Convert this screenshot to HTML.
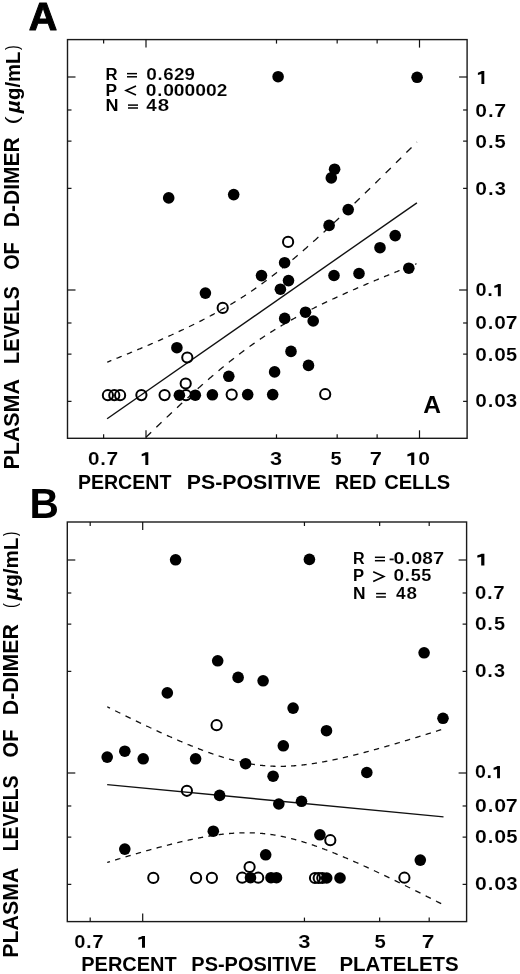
<!DOCTYPE html>
<html><head><meta charset="utf-8"><style>
html,body{margin:0;padding:0;background:#fff;}
svg{display:block;filter:blur(0.35px);}
text{font-family:"Liberation Sans",sans-serif;font-weight:bold;fill:#000;font-kerning:none;}
</style></head><body>
<svg width="520" height="974" viewBox="0 0 520 974">
<rect width="520" height="974" fill="#fff"/>
<rect x="67.5" y="39.6" width="399.6" height="398.7" fill="none" stroke="#1a1a1a" stroke-width="1.4"/>
<line x1="103.63" y1="39.60" x2="103.63" y2="43.60" stroke="#111" stroke-width="1.2"/>
<line x1="103.63" y1="438.30" x2="103.63" y2="434.30" stroke="#111" stroke-width="1.2"/>
<line x1="146.00" y1="39.60" x2="146.00" y2="47.60" stroke="#111" stroke-width="1.2"/>
<line x1="146.00" y1="438.30" x2="146.00" y2="430.30" stroke="#111" stroke-width="1.2"/>
<line x1="276.49" y1="39.60" x2="276.49" y2="43.60" stroke="#111" stroke-width="1.2"/>
<line x1="276.49" y1="438.30" x2="276.49" y2="434.30" stroke="#111" stroke-width="1.2"/>
<line x1="337.17" y1="39.60" x2="337.17" y2="43.60" stroke="#111" stroke-width="1.2"/>
<line x1="337.17" y1="438.30" x2="337.17" y2="434.30" stroke="#111" stroke-width="1.2"/>
<line x1="377.13" y1="39.60" x2="377.13" y2="43.60" stroke="#111" stroke-width="1.2"/>
<line x1="377.13" y1="438.30" x2="377.13" y2="434.30" stroke="#111" stroke-width="1.2"/>
<line x1="419.50" y1="39.60" x2="419.50" y2="47.60" stroke="#111" stroke-width="1.2"/>
<line x1="419.50" y1="438.30" x2="419.50" y2="430.30" stroke="#111" stroke-width="1.2"/>
<line x1="67.50" y1="77.00" x2="75.50" y2="77.00" stroke="#111" stroke-width="1.2"/>
<line x1="467.10" y1="77.00" x2="459.10" y2="77.00" stroke="#111" stroke-width="1.2"/>
<line x1="67.50" y1="109.99" x2="71.50" y2="109.99" stroke="#111" stroke-width="1.2"/>
<line x1="467.10" y1="109.99" x2="463.10" y2="109.99" stroke="#111" stroke-width="1.2"/>
<line x1="67.50" y1="141.12" x2="71.50" y2="141.12" stroke="#111" stroke-width="1.2"/>
<line x1="467.10" y1="141.12" x2="463.10" y2="141.12" stroke="#111" stroke-width="1.2"/>
<line x1="67.50" y1="188.37" x2="71.50" y2="188.37" stroke="#111" stroke-width="1.2"/>
<line x1="467.10" y1="188.37" x2="463.10" y2="188.37" stroke="#111" stroke-width="1.2"/>
<line x1="67.50" y1="290.00" x2="75.50" y2="290.00" stroke="#111" stroke-width="1.2"/>
<line x1="467.10" y1="290.00" x2="459.10" y2="290.00" stroke="#111" stroke-width="1.2"/>
<line x1="67.50" y1="322.99" x2="71.50" y2="322.99" stroke="#111" stroke-width="1.2"/>
<line x1="467.10" y1="322.99" x2="463.10" y2="322.99" stroke="#111" stroke-width="1.2"/>
<line x1="67.50" y1="354.12" x2="71.50" y2="354.12" stroke="#111" stroke-width="1.2"/>
<line x1="467.10" y1="354.12" x2="463.10" y2="354.12" stroke="#111" stroke-width="1.2"/>
<line x1="67.50" y1="401.37" x2="71.50" y2="401.37" stroke="#111" stroke-width="1.2"/>
<line x1="467.10" y1="401.37" x2="463.10" y2="401.37" stroke="#111" stroke-width="1.2"/>
<line x1="107.10" y1="418.80" x2="416.90" y2="202.81" stroke="#111" stroke-width="1.4"/>
<path d="M107.10,362.22 L107.63,362.01 L108.17,361.79 L108.70,361.58 L109.24,361.36 L109.77,361.15 L110.31,360.93 L110.84,360.72 L111.38,360.50 M116.55,358.41 L117.07,358.20 L117.58,357.99 L118.10,357.77 L118.62,357.56 L119.14,357.35 L119.66,357.14 L120.17,356.93 L120.69,356.72 L121.21,356.51 L121.72,356.30 M126.90,354.17 L127.42,353.96 L127.94,353.74 L128.45,353.53 L128.97,353.31 L129.49,353.10 L130.01,352.89 L130.52,352.67 L131.04,352.46 L131.56,352.24 L132.08,352.03 M137.25,349.87 L137.77,349.65 L138.28,349.43 L138.80,349.21 L139.32,349.00 L139.84,348.78 L140.36,348.56 L140.87,348.34 L141.39,348.12 L141.91,347.90 L142.43,347.68 M147.60,345.48 L148.12,345.26 L148.63,345.04 L149.15,344.82 L149.67,344.59 L150.19,344.37 L150.71,344.15 L151.22,343.92 L151.74,343.70 L152.26,343.48 L152.78,343.25 M157.95,341.00 L158.47,340.77 L158.98,340.55 L159.50,340.32 L160.02,340.09 L160.54,339.86 L161.06,339.63 L161.57,339.41 L162.09,339.18 L162.61,338.95 L163.12,338.72 M168.30,336.40 L168.82,336.17 L169.34,335.94 L169.85,335.70 L170.37,335.47 L170.89,335.23 L171.41,335.00 L171.92,334.76 L172.44,334.53 L172.96,334.29 L173.48,334.05 M178.65,331.66 L179.17,331.42 L179.69,331.18 L180.20,330.94 L180.72,330.70 L181.24,330.45 L181.76,330.21 L182.27,329.97 L182.79,329.72 L183.31,329.48 L183.83,329.23 M189.00,326.75 L189.52,326.50 L190.03,326.25 L190.55,326.00 L191.07,325.75 L191.59,325.49 L192.11,325.24 L192.62,324.99 L193.14,324.73 L193.66,324.48 L194.18,324.22 M199.35,321.64 L199.87,321.37 L200.38,321.11 L200.90,320.85 L201.42,320.58 L201.94,320.32 L202.46,320.05 L202.97,319.79 L203.49,319.52 L204.01,319.25 L204.53,318.99 M209.70,316.27 L210.22,315.99 L210.73,315.72 L211.25,315.44 L211.77,315.16 L212.29,314.88 L212.81,314.60 L213.32,314.32 L213.84,314.04 L214.36,313.76 L214.88,313.48 M220.05,310.61 L220.57,310.31 L221.09,310.02 L221.60,309.73 L222.12,309.43 L222.64,309.14 L223.16,308.84 L223.67,308.54 L224.19,308.25 L224.71,307.95 L225.23,307.65 M230.40,304.60 L230.92,304.29 L231.43,303.98 L231.95,303.66 L232.47,303.35 L232.99,303.04 L233.50,302.72 L234.02,302.40 L234.54,302.09 L235.06,301.77 L235.57,301.45 M240.75,298.20 L241.27,297.87 L241.78,297.53 L242.30,297.20 L242.82,296.87 L243.34,296.53 L243.86,296.20 L244.37,295.86 L244.89,295.52 L245.41,295.18 L245.93,294.84 M251.10,291.37 L251.62,291.02 L252.14,290.66 L252.65,290.31 L253.17,289.95 L253.69,289.60 L254.21,289.24 L254.72,288.88 L255.24,288.52 L255.76,288.15 L256.28,287.79 M261.45,284.10 L261.97,283.72 L262.49,283.35 L263.00,282.97 L263.52,282.59 L264.04,282.21 L264.56,281.83 L265.07,281.45 L265.59,281.07 L266.11,280.68 L266.62,280.30 M271.80,276.39 L272.32,275.99 L272.84,275.59 L273.35,275.19 L273.87,274.79 L274.39,274.39 L274.91,273.99 L275.42,273.59 L275.94,273.18 L276.46,272.78 L276.98,272.37 M282.15,268.25 L282.67,267.84 L283.19,267.42 L283.70,267.00 L284.22,266.58 L284.74,266.16 L285.25,265.74 L285.77,265.32 L286.29,264.89 L286.81,264.47 L287.32,264.04 M292.50,259.74 L293.02,259.31 L293.54,258.87 L294.05,258.43 L294.57,258.00 L295.09,257.56 L295.61,257.12 L296.12,256.68 L296.64,256.24 L297.16,255.80 L297.68,255.36 M302.85,250.89 L303.37,250.44 L303.89,249.99 L304.40,249.54 L304.92,249.09 L305.44,248.64 L305.96,248.18 L306.47,247.73 L306.99,247.27 L307.51,246.82 L308.03,246.36 M313.20,241.76 L313.72,241.30 L314.24,240.84 L314.75,240.37 L315.27,239.91 L315.79,239.44 L316.31,238.98 L316.82,238.51 L317.34,238.04 L317.86,237.57 L318.38,237.11 M323.55,232.39 L324.07,231.92 L324.59,231.45 L325.10,230.97 L325.62,230.50 L326.14,230.02 L326.66,229.54 L327.17,229.07 L327.69,228.59 L328.21,228.11 L328.73,227.63 M333.90,222.83 L334.42,222.34 L334.94,221.86 L335.45,221.38 L335.97,220.89 L336.49,220.41 L337.00,219.92 L337.52,219.44 L338.04,218.95 L338.56,218.47 L339.07,217.98 M344.25,213.10 L344.77,212.61 L345.29,212.12 L345.80,211.62 L346.32,211.13 L346.84,210.64 L347.36,210.15 L347.87,209.66 L348.39,209.17 L348.91,208.67 L349.43,208.18 M354.60,203.23 L355.12,202.74 L355.63,202.24 L356.15,201.74 L356.67,201.24 L357.19,200.75 L357.70,200.25 L358.22,199.75 L358.74,199.25 L359.26,198.75 L359.77,198.26 M364.95,193.26 L365.47,192.75 L365.99,192.25 L366.50,191.75 L367.02,191.25 L367.54,190.75 L368.06,190.24 L368.57,189.74 L369.09,189.24 L369.61,188.73 L370.12,188.23 M375.30,183.19 L375.82,182.68 L376.33,182.18 L376.85,181.67 L377.37,181.16 L377.89,180.66 L378.40,180.15 L378.92,179.64 L379.44,179.14 L379.96,178.63 L380.47,178.12 M385.65,173.04 L386.17,172.53 L386.69,172.02 L387.20,171.51 L387.72,171.00 L388.24,170.49 L388.75,169.98 L389.27,169.47 L389.79,168.96 L390.31,168.45 L390.82,167.94 M396.00,162.83 L396.52,162.32 L397.04,161.81 L397.55,161.29 L398.07,160.78 L398.59,160.27 L399.11,159.76 L399.62,159.24 L400.14,158.73 L400.66,158.22 L401.18,157.70 M406.35,152.57 L406.87,152.05 L407.38,151.54 L407.90,151.02 L408.42,150.51 L408.94,149.99 L409.45,149.48 L409.97,148.96 L410.49,148.45 L411.01,147.93 L411.52,147.42 M416.70,142.25 L416.90,142.05" fill="none" stroke="#111" stroke-width="1.3"/>
<path d="M146.00,437.19 L146.52,436.69 L147.03,436.19 L147.55,435.69 L148.07,435.19 L148.59,434.69 L149.11,434.19 L149.62,433.69 L150.14,433.19 L150.66,432.70 L151.18,432.20 M156.35,427.23 L156.87,426.73 L157.38,426.24 L157.90,425.74 L158.42,425.25 L158.94,424.75 L159.46,424.26 L159.97,423.76 L160.49,423.27 L161.01,422.78 L161.53,422.28 M166.70,417.37 L167.22,416.88 L167.73,416.39 L168.25,415.91 L168.77,415.42 L169.29,414.93 L169.81,414.44 L170.32,413.95 L170.84,413.47 L171.36,412.98 L171.88,412.50 M177.05,407.66 L177.57,407.17 L178.09,406.69 L178.60,406.21 L179.12,405.73 L179.64,405.25 L180.16,404.77 L180.67,404.29 L181.19,403.81 L181.71,403.34 L182.23,402.86 M187.40,398.10 L187.92,397.63 L188.43,397.16 L188.95,396.69 L189.47,396.22 L189.99,395.75 L190.50,395.28 L191.02,394.81 L191.54,394.34 L192.06,393.87 L192.57,393.40 M197.75,388.76 L198.27,388.29 L198.78,387.83 L199.30,387.37 L199.82,386.91 L200.34,386.45 L200.86,386.00 L201.37,385.54 L201.89,385.08 L202.41,384.62 L202.93,384.17 M208.10,379.65 L208.62,379.20 L209.13,378.75 L209.65,378.31 L210.17,377.86 L210.69,377.42 L211.21,376.97 L211.72,376.53 L212.24,376.08 L212.76,375.64 L213.28,375.20 M218.45,370.83 L218.97,370.40 L219.48,369.97 L220.00,369.54 L220.52,369.11 L221.04,368.68 L221.56,368.25 L222.07,367.82 L222.59,367.40 L223.11,366.97 L223.62,366.55 M228.80,362.35 L229.32,361.94 L229.83,361.52 L230.35,361.11 L230.87,360.70 L231.39,360.29 L231.91,359.88 L232.42,359.47 L232.94,359.06 L233.46,358.66 L233.97,358.25 M239.15,354.26 L239.67,353.86 L240.18,353.47 L240.70,353.08 L241.22,352.69 L241.74,352.30 L242.25,351.91 L242.77,351.52 L243.29,351.13 L243.81,350.75 L244.32,350.36 M249.50,346.58 L250.02,346.21 L250.53,345.84 L251.05,345.47 L251.57,345.10 L252.09,344.73 L252.61,344.37 L253.12,344.00 L253.64,343.64 L254.16,343.27 L254.68,342.91 M259.85,339.35 L260.37,339.00 L260.89,338.65 L261.40,338.31 L261.92,337.96 L262.44,337.61 L262.96,337.27 L263.47,336.93 L263.99,336.58 L264.51,336.24 L265.03,335.90 M270.20,332.57 L270.72,332.24 L271.24,331.91 L271.75,331.59 L272.27,331.26 L272.79,330.94 L273.31,330.61 L273.82,330.29 L274.34,329.97 L274.86,329.65 L275.38,329.33 M280.55,326.20 L281.07,325.90 L281.58,325.59 L282.10,325.28 L282.62,324.98 L283.14,324.68 L283.65,324.37 L284.17,324.07 L284.69,323.77 L285.21,323.47 L285.72,323.17 M290.90,320.23 L291.42,319.94 L291.94,319.65 L292.45,319.36 L292.97,319.08 L293.49,318.79 L294.00,318.51 L294.52,318.22 L295.04,317.94 L295.56,317.65 L296.07,317.37 M301.25,314.59 L301.77,314.32 L302.29,314.05 L302.80,313.78 L303.32,313.50 L303.84,313.23 L304.36,312.96 L304.87,312.69 L305.39,312.43 L305.91,312.16 L306.43,311.89 M311.60,309.25 L312.12,308.99 L312.64,308.73 L313.15,308.47 L313.67,308.22 L314.19,307.96 L314.71,307.70 L315.22,307.44 L315.74,307.19 L316.26,306.93 L316.78,306.68 M321.95,304.16 L322.47,303.91 L322.99,303.66 L323.50,303.41 L324.02,303.16 L324.54,302.92 L325.06,302.67 L325.57,302.42 L326.09,302.18 L326.61,301.93 L327.12,301.69 M332.30,299.26 L332.82,299.02 L333.33,298.78 L333.85,298.54 L334.37,298.31 L334.89,298.07 L335.40,297.83 L335.92,297.59 L336.44,297.36 L336.96,297.12 L337.47,296.88 M342.65,294.54 L343.17,294.31 L343.69,294.07 L344.20,293.84 L344.72,293.61 L345.24,293.38 L345.75,293.15 L346.27,292.92 L346.79,292.69 L347.31,292.46 L347.82,292.23 M353.00,289.95 L353.52,289.73 L354.04,289.50 L354.55,289.28 L355.07,289.05 L355.59,288.82 L356.11,288.60 L356.62,288.38 L357.14,288.15 L357.66,287.93 L358.18,287.70 M363.35,285.48 L363.87,285.26 L364.39,285.04 L364.90,284.82 L365.42,284.60 L365.94,284.38 L366.46,284.16 L366.97,283.94 L367.49,283.72 L368.01,283.50 L368.53,283.28 M373.70,281.10 L374.22,280.89 L374.73,280.67 L375.25,280.46 L375.77,280.24 L376.29,280.02 L376.80,279.81 L377.32,279.59 L377.84,279.38 L378.36,279.16 L378.87,278.95 M384.05,276.81 L384.57,276.59 L385.08,276.38 L385.60,276.17 L386.12,275.96 L386.64,275.74 L387.15,275.53 L387.67,275.32 L388.19,275.11 L388.71,274.90 L389.22,274.68 M394.40,272.58 L394.92,272.37 L395.44,272.16 L395.95,271.95 L396.47,271.74 L396.99,271.53 L397.50,271.32 L398.02,271.11 L398.54,270.90 L399.06,270.69 L399.57,270.48 M404.75,268.40 L405.27,268.19 L405.79,267.99 L406.30,267.78 L406.82,267.57 L407.34,267.37 L407.86,267.16 L408.37,266.95 L408.89,266.75 L409.41,266.54 L409.93,266.33 M415.10,264.27 L415.80,264.00 L416.50,263.72" fill="none" stroke="#111" stroke-width="1.3"/>
<circle cx="288.1" cy="241.9" r="5.1" fill="none" stroke="#000" stroke-width="2.0"/>
<circle cx="222.7" cy="307.9" r="5.1" fill="none" stroke="#000" stroke-width="2.0"/>
<circle cx="187.3" cy="357.5" r="5.1" fill="none" stroke="#000" stroke-width="2.0"/>
<circle cx="185.7" cy="383.5" r="5.1" fill="none" stroke="#000" stroke-width="2.0"/>
<circle cx="186" cy="395.2" r="5.1" fill="none" stroke="#000" stroke-width="2.0"/>
<circle cx="107.9" cy="395.2" r="5.1" fill="none" stroke="#000" stroke-width="2.0"/>
<circle cx="114.3" cy="395.2" r="5.1" fill="none" stroke="#000" stroke-width="2.0"/>
<circle cx="120.1" cy="395.2" r="5.1" fill="none" stroke="#000" stroke-width="2.0"/>
<circle cx="141.4" cy="395.1" r="5.1" fill="none" stroke="#000" stroke-width="2.0"/>
<circle cx="164.6" cy="395.1" r="5.1" fill="none" stroke="#000" stroke-width="2.0"/>
<circle cx="231.7" cy="394.6" r="5.1" fill="none" stroke="#000" stroke-width="2.0"/>
<circle cx="325.2" cy="394.2" r="5.1" fill="none" stroke="#000" stroke-width="2.0"/>
<circle cx="278.1" cy="76.7" r="5.8" fill="#000"/>
<circle cx="417.1" cy="77.3" r="5.8" fill="#000"/>
<circle cx="168.7" cy="197.9" r="5.8" fill="#000"/>
<circle cx="233.7" cy="194.6" r="5.8" fill="#000"/>
<circle cx="334.6" cy="169.2" r="5.8" fill="#000"/>
<circle cx="331.3" cy="177.9" r="5.8" fill="#000"/>
<circle cx="348.2" cy="209.6" r="5.8" fill="#000"/>
<circle cx="329.1" cy="225.4" r="5.8" fill="#000"/>
<circle cx="395.2" cy="235.6" r="5.8" fill="#000"/>
<circle cx="380" cy="247.7" r="5.8" fill="#000"/>
<circle cx="408.8" cy="268.2" r="5.8" fill="#000"/>
<circle cx="334" cy="275.5" r="5.8" fill="#000"/>
<circle cx="359" cy="273.5" r="5.8" fill="#000"/>
<circle cx="284.6" cy="262.7" r="5.8" fill="#000"/>
<circle cx="261.5" cy="275.6" r="5.8" fill="#000"/>
<circle cx="288.5" cy="280.6" r="5.8" fill="#000"/>
<circle cx="280.4" cy="289.2" r="5.8" fill="#000"/>
<circle cx="205.4" cy="293.1" r="5.8" fill="#000"/>
<circle cx="176.9" cy="347.7" r="5.8" fill="#000"/>
<circle cx="305.5" cy="312.2" r="5.8" fill="#000"/>
<circle cx="313.2" cy="321" r="5.8" fill="#000"/>
<circle cx="284.7" cy="318.4" r="5.8" fill="#000"/>
<circle cx="291" cy="351.4" r="5.8" fill="#000"/>
<circle cx="308.5" cy="365.4" r="5.8" fill="#000"/>
<circle cx="228.8" cy="376.3" r="5.8" fill="#000"/>
<circle cx="274.6" cy="371.9" r="5.8" fill="#000"/>
<circle cx="179.4" cy="395.2" r="5.8" fill="#000"/>
<circle cx="195.3" cy="395.2" r="5.8" fill="#000"/>
<circle cx="212.4" cy="394.8" r="5.8" fill="#000"/>
<circle cx="247.7" cy="394.6" r="5.8" fill="#000"/>
<circle cx="272.7" cy="394.6" r="5.8" fill="#000"/>
<text x="105.58" y="80.00" font-size="15.8" textLength="12.06" lengthAdjust="spacingAndGlyphs">R</text>
<line x1="127" y1="73.65" x2="137" y2="73.65" stroke="#000" stroke-width="1.5"/>
<line x1="127" y1="76.8" x2="137" y2="76.8" stroke="#000" stroke-width="1.5"/>
<text x="146.15" y="80.00" font-size="15.8" textLength="10.59" lengthAdjust="spacingAndGlyphs" stroke="#fff" stroke-width="0.1">0</text>
<text x="157.50" y="80.00" font-size="15.8" textLength="5.05" lengthAdjust="spacingAndGlyphs" stroke="#fff" stroke-width="0.1">.</text>
<text x="163.38" y="80.00" font-size="15.8" textLength="10.42" lengthAdjust="spacingAndGlyphs" stroke="#fff" stroke-width="0.1">6</text>
<text x="173.95" y="80.00" font-size="15.8" textLength="10.47" lengthAdjust="spacingAndGlyphs" stroke="#fff" stroke-width="0.1">2</text>
<text x="184.49" y="80.00" font-size="15.8" textLength="10.40" lengthAdjust="spacingAndGlyphs" stroke="#fff" stroke-width="0.1">9</text>
<text x="105.54" y="95.50" font-size="15.8" textLength="11.55" lengthAdjust="spacingAndGlyphs">P</text>
<polyline points="136,86 126,90.5 136,95" fill="none" stroke="#000" stroke-width="1.6" stroke-linejoin="miter"/>
<text x="145.84" y="95.50" font-size="15.8" textLength="10.73" lengthAdjust="spacingAndGlyphs" stroke="#fff" stroke-width="0.1">0</text>
<text x="157.37" y="95.50" font-size="15.8" textLength="5.05" lengthAdjust="spacingAndGlyphs" stroke="#fff" stroke-width="0.1">.</text>
<text x="163.23" y="95.50" font-size="15.8" textLength="10.73" lengthAdjust="spacingAndGlyphs" stroke="#fff" stroke-width="0.1">0</text>
<text x="173.89" y="95.50" font-size="15.8" textLength="10.73" lengthAdjust="spacingAndGlyphs" stroke="#fff" stroke-width="0.1">0</text>
<text x="184.56" y="95.50" font-size="15.8" textLength="10.73" lengthAdjust="spacingAndGlyphs" stroke="#fff" stroke-width="0.1">0</text>
<text x="195.23" y="95.50" font-size="15.8" textLength="10.73" lengthAdjust="spacingAndGlyphs" stroke="#fff" stroke-width="0.1">0</text>
<text x="205.90" y="95.50" font-size="15.8" textLength="10.73" lengthAdjust="spacingAndGlyphs" stroke="#fff" stroke-width="0.1">0</text>
<text x="216.67" y="95.50" font-size="15.8" textLength="10.60" lengthAdjust="spacingAndGlyphs" stroke="#fff" stroke-width="0.1">2</text>
<text x="105.49" y="111.20" font-size="15.8" textLength="13.02" lengthAdjust="spacingAndGlyphs">N</text>
<line x1="128" y1="105.1" x2="138" y2="105.1" stroke="#000" stroke-width="1.5"/>
<line x1="128" y1="108" x2="138" y2="108" stroke="#000" stroke-width="1.5"/>
<text x="146.31" y="111.20" font-size="15.8" textLength="10.51" lengthAdjust="spacingAndGlyphs" stroke="#fff" stroke-width="0.1">4</text>
<text x="157.72" y="111.20" font-size="15.8" textLength="11.41" lengthAdjust="spacingAndGlyphs" stroke="#fff" stroke-width="0.1">8</text>
<text x="423.19" y="413.10" font-size="24.7" textLength="17.76" lengthAdjust="spacingAndGlyphs">A</text>
<path d="M481.42,83.90 L484.30,83.90 L484.30,70.90 L481.72,70.90 C480.82,71.68 478.70,72.33 477.90,72.72 L477.90,74.93 C479.10,74.67 480.62,74.28 481.42,74.02 Z" fill="#000"/>
<text x="475.37" y="116.80" font-size="17.6" textLength="11.71" lengthAdjust="spacingAndGlyphs" stroke="#fff" stroke-width="0.1">0</text>
<text x="487.90" y="116.80" font-size="17.6" textLength="5.62" lengthAdjust="spacingAndGlyphs" stroke="#fff" stroke-width="0.1">.</text>
<text x="494.27" y="116.80" font-size="17.6" textLength="11.87" lengthAdjust="spacingAndGlyphs" stroke="#fff" stroke-width="0.1">7</text>
<text x="475.37" y="147.70" font-size="17.6" textLength="11.71" lengthAdjust="spacingAndGlyphs" stroke="#fff" stroke-width="0.1">0</text>
<text x="487.90" y="147.70" font-size="17.6" textLength="5.62" lengthAdjust="spacingAndGlyphs" stroke="#fff" stroke-width="0.1">.</text>
<text x="494.56" y="147.70" font-size="17.6" textLength="11.20" lengthAdjust="spacingAndGlyphs" stroke="#fff" stroke-width="0.1">5</text>
<text x="475.37" y="194.70" font-size="17.6" textLength="11.71" lengthAdjust="spacingAndGlyphs" stroke="#fff" stroke-width="0.1">0</text>
<text x="487.90" y="194.70" font-size="17.6" textLength="5.62" lengthAdjust="spacingAndGlyphs" stroke="#fff" stroke-width="0.1">.</text>
<text x="494.72" y="194.70" font-size="17.6" textLength="11.21" lengthAdjust="spacingAndGlyphs" stroke="#fff" stroke-width="0.1">3</text>
<text x="475.41" y="296.30" font-size="17.6" textLength="11.15" lengthAdjust="spacingAndGlyphs" stroke="#fff" stroke-width="0.1">0</text>
<text x="487.20" y="296.30" font-size="17.6" textLength="5.62" lengthAdjust="spacingAndGlyphs" stroke="#fff" stroke-width="0.1">.</text>
<path d="M497.86,296.30 L500.81,296.30 L500.81,283.90 L498.16,283.90 C497.26,284.64 495.07,285.26 494.27,285.64 L494.27,287.74 C495.47,287.50 497.06,287.12 497.86,286.88 Z" fill="#000"/>
<text x="475.37" y="329.10" font-size="17.6" textLength="11.61" lengthAdjust="spacingAndGlyphs" stroke="#fff" stroke-width="0.1">0</text>
<text x="487.77" y="329.10" font-size="17.6" textLength="5.62" lengthAdjust="spacingAndGlyphs" stroke="#fff" stroke-width="0.1">.</text>
<text x="494.20" y="329.10" font-size="17.6" textLength="11.61" lengthAdjust="spacingAndGlyphs" stroke="#fff" stroke-width="0.1">0</text>
<text x="505.66" y="329.10" font-size="17.6" textLength="11.77" lengthAdjust="spacingAndGlyphs" stroke="#fff" stroke-width="0.1">7</text>
<text x="475.37" y="360.70" font-size="17.6" textLength="11.61" lengthAdjust="spacingAndGlyphs" stroke="#fff" stroke-width="0.1">0</text>
<text x="487.77" y="360.70" font-size="17.6" textLength="5.62" lengthAdjust="spacingAndGlyphs" stroke="#fff" stroke-width="0.1">.</text>
<text x="494.20" y="360.70" font-size="17.6" textLength="11.61" lengthAdjust="spacingAndGlyphs" stroke="#fff" stroke-width="0.1">0</text>
<text x="505.96" y="360.70" font-size="17.6" textLength="11.10" lengthAdjust="spacingAndGlyphs" stroke="#fff" stroke-width="0.1">5</text>
<text x="475.37" y="407.30" font-size="17.6" textLength="11.61" lengthAdjust="spacingAndGlyphs" stroke="#fff" stroke-width="0.1">0</text>
<text x="487.77" y="407.30" font-size="17.6" textLength="5.62" lengthAdjust="spacingAndGlyphs" stroke="#fff" stroke-width="0.1">.</text>
<text x="494.20" y="407.30" font-size="17.6" textLength="11.61" lengthAdjust="spacingAndGlyphs" stroke="#fff" stroke-width="0.1">0</text>
<text x="506.11" y="407.30" font-size="17.6" textLength="11.11" lengthAdjust="spacingAndGlyphs" stroke="#fff" stroke-width="0.1">3</text>
<text x="87.98" y="465.00" font-size="17.6" textLength="11.51" lengthAdjust="spacingAndGlyphs" stroke="#fff" stroke-width="0.1">0</text>
<text x="100.25" y="465.00" font-size="17.6" textLength="5.62" lengthAdjust="spacingAndGlyphs" stroke="#fff" stroke-width="0.1">.</text>
<text x="106.56" y="465.00" font-size="17.6" textLength="11.67" lengthAdjust="spacingAndGlyphs" stroke="#fff" stroke-width="0.1">7</text>
<text x="269.90" y="465.00" font-size="17.6" textLength="12.08" lengthAdjust="spacingAndGlyphs" stroke="#fff" stroke-width="0.1">3</text>
<text x="330.58" y="465.00" font-size="17.6" textLength="11.18" lengthAdjust="spacingAndGlyphs" stroke="#fff" stroke-width="0.1">5</text>
<text x="369.86" y="465.00" font-size="17.6" textLength="12.21" lengthAdjust="spacingAndGlyphs" stroke="#fff" stroke-width="0.1">7</text>
<path d="M411.19,465.00 L414.28,465.00 L414.28,452.60 L411.49,452.60 C410.59,453.34 408.20,453.96 407.40,454.34 L407.40,456.44 C408.60,456.20 410.39,455.82 411.19,455.58 Z" fill="#000"/>
<text x="418.23" y="465.00" font-size="17.6" textLength="11.73" lengthAdjust="spacingAndGlyphs" stroke="#fff" stroke-width="0.1">0</text>
<path d="M145.33,465.00 L148.30,465.00 L148.30,452.20 L145.63,452.20 C144.73,452.97 142.50,453.61 141.70,453.99 L141.70,456.17 C142.90,455.91 144.53,455.53 145.33,455.27 Z" fill="#000"/>
<text x="77.89" y="488.60" font-size="20.9" textLength="93.52" lengthAdjust="spacingAndGlyphs">PERCENT</text>
<text x="186.67" y="488.60" font-size="20.9" textLength="134.06" lengthAdjust="spacingAndGlyphs">PS-POSITIVE</text>
<text x="334.99" y="488.60" font-size="20.9" textLength="41.33" lengthAdjust="spacingAndGlyphs">RED</text>
<text x="384.18" y="488.60" font-size="20.9" textLength="65.91" lengthAdjust="spacingAndGlyphs">CELLS</text>
<text transform="translate(18.90,0) rotate(-90)" x="-469.43" y="0" font-size="21.8" textLength="90.29" lengthAdjust="spacingAndGlyphs">PLASMA</text>
<text transform="translate(18.90,0) rotate(-90)" x="-363.94" y="0" font-size="21.8" textLength="77.72" lengthAdjust="spacingAndGlyphs">LEVELS</text>
<text transform="translate(18.90,0) rotate(-90)" x="-269.81" y="0" font-size="21.8" textLength="27.54" lengthAdjust="spacingAndGlyphs">OF</text>
<text transform="translate(18.90,0) rotate(-90)" x="-227.20" y="0" font-size="21.8" textLength="89.84" lengthAdjust="spacingAndGlyphs">D-DIMER</text>
<text transform="translate(18.10,0) rotate(-90)" x="-124.62" y="0" font-size="18.1" style="font-weight:normal" textLength="8.16" lengthAdjust="spacingAndGlyphs">(</text>
<text transform="translate(19.75,0) rotate(-90)" x="-113.39" y="0" font-size="20.5" font-style="italic" textLength="12.83" lengthAdjust="spacingAndGlyphs">µ</text>
<text transform="translate(19.75,0) rotate(-90)" x="-99.93" y="0" font-size="20.5" textLength="48.30" lengthAdjust="spacingAndGlyphs">g/mL</text>
<text transform="translate(18.10,0) rotate(-90)" x="-49.98" y="0" font-size="18.1" style="font-weight:normal" textLength="4.65" lengthAdjust="spacingAndGlyphs">)</text>
<text x="28.72" y="30.20" font-size="39.7" textLength="28.53" lengthAdjust="spacingAndGlyphs" stroke="#000" stroke-width="1.0" stroke-linejoin="round">A</text>
<rect x="67.3" y="522.0" width="399.3" height="399.6" fill="none" stroke="#1a1a1a" stroke-width="1.4"/>
<line x1="90.19" y1="522.00" x2="90.19" y2="526.00" stroke="#111" stroke-width="1.2"/>
<line x1="90.19" y1="921.60" x2="90.19" y2="917.60" stroke="#111" stroke-width="1.2"/>
<line x1="142.70" y1="522.00" x2="142.70" y2="530.00" stroke="#111" stroke-width="1.2"/>
<line x1="142.70" y1="921.60" x2="142.70" y2="913.60" stroke="#111" stroke-width="1.2"/>
<line x1="304.44" y1="522.00" x2="304.44" y2="526.00" stroke="#111" stroke-width="1.2"/>
<line x1="304.44" y1="921.60" x2="304.44" y2="917.60" stroke="#111" stroke-width="1.2"/>
<line x1="379.65" y1="522.00" x2="379.65" y2="526.00" stroke="#111" stroke-width="1.2"/>
<line x1="379.65" y1="921.60" x2="379.65" y2="917.60" stroke="#111" stroke-width="1.2"/>
<line x1="429.19" y1="522.00" x2="429.19" y2="526.00" stroke="#111" stroke-width="1.2"/>
<line x1="429.19" y1="921.60" x2="429.19" y2="917.60" stroke="#111" stroke-width="1.2"/>
<line x1="67.30" y1="560.00" x2="75.30" y2="560.00" stroke="#111" stroke-width="1.2"/>
<line x1="466.60" y1="560.00" x2="458.60" y2="560.00" stroke="#111" stroke-width="1.2"/>
<line x1="67.30" y1="592.99" x2="71.30" y2="592.99" stroke="#111" stroke-width="1.2"/>
<line x1="466.60" y1="592.99" x2="462.60" y2="592.99" stroke="#111" stroke-width="1.2"/>
<line x1="67.30" y1="624.12" x2="71.30" y2="624.12" stroke="#111" stroke-width="1.2"/>
<line x1="466.60" y1="624.12" x2="462.60" y2="624.12" stroke="#111" stroke-width="1.2"/>
<line x1="67.30" y1="671.37" x2="71.30" y2="671.37" stroke="#111" stroke-width="1.2"/>
<line x1="466.60" y1="671.37" x2="462.60" y2="671.37" stroke="#111" stroke-width="1.2"/>
<line x1="67.30" y1="773.00" x2="75.30" y2="773.00" stroke="#111" stroke-width="1.2"/>
<line x1="466.60" y1="773.00" x2="458.60" y2="773.00" stroke="#111" stroke-width="1.2"/>
<line x1="67.30" y1="805.99" x2="71.30" y2="805.99" stroke="#111" stroke-width="1.2"/>
<line x1="466.60" y1="805.99" x2="462.60" y2="805.99" stroke="#111" stroke-width="1.2"/>
<line x1="67.30" y1="837.12" x2="71.30" y2="837.12" stroke="#111" stroke-width="1.2"/>
<line x1="466.60" y1="837.12" x2="462.60" y2="837.12" stroke="#111" stroke-width="1.2"/>
<line x1="67.30" y1="884.37" x2="71.30" y2="884.37" stroke="#111" stroke-width="1.2"/>
<line x1="466.60" y1="884.37" x2="462.60" y2="884.37" stroke="#111" stroke-width="1.2"/>
<line x1="107.20" y1="784.60" x2="443.50" y2="816.88" stroke="#111" stroke-width="1.4"/>
<path d="M107.20,706.76 L107.75,707.04 L108.31,707.31 L108.86,707.59 L109.42,707.87 L109.97,708.15 M115.15,710.72 L115.67,710.98 L116.18,711.23 L116.70,711.49 L117.22,711.75 L117.74,712.00 L118.25,712.26 L118.77,712.51 L119.29,712.77 L119.81,713.02 L120.32,713.28 M125.50,715.82 L126.02,716.08 L126.53,716.33 L127.05,716.58 L127.57,716.84 L128.09,717.09 L128.61,717.34 L129.12,717.59 L129.64,717.84 L130.16,718.10 L130.68,718.35 M135.85,720.85 L136.37,721.10 L136.88,721.35 L137.40,721.60 L137.92,721.85 L138.44,722.10 L138.96,722.35 L139.47,722.60 L139.99,722.84 L140.51,723.09 L141.03,723.34 M146.20,725.80 L146.72,726.04 L147.23,726.29 L147.75,726.53 L148.27,726.78 L148.79,727.02 L149.31,727.26 L149.82,727.51 L150.34,727.75 L150.86,727.99 L151.38,728.24 M156.55,730.64 L157.07,730.88 L157.59,731.12 L158.10,731.36 L158.62,731.60 L159.14,731.84 L159.66,732.07 L160.17,732.31 L160.69,732.55 L161.21,732.78 L161.73,733.02 M166.90,735.36 L167.42,735.60 L167.93,735.83 L168.45,736.06 L168.97,736.29 L169.49,736.52 L170.00,736.75 L170.52,736.98 L171.04,737.21 L171.56,737.44 L172.07,737.67 M177.25,739.93 L177.77,740.15 L178.28,740.38 L178.80,740.60 L179.32,740.82 L179.84,741.05 L180.36,741.27 L180.87,741.49 L181.39,741.71 L181.91,741.93 L182.43,742.15 M187.60,744.31 L188.12,744.53 L188.63,744.74 L189.15,744.95 L189.67,745.17 L190.19,745.38 L190.71,745.59 L191.22,745.80 L191.74,746.01 L192.26,746.22 L192.78,746.42 M197.95,748.47 L198.47,748.67 L198.98,748.87 L199.50,749.07 L200.02,749.27 L200.54,749.47 L201.06,749.67 L201.57,749.86 L202.09,750.06 L202.61,750.25 L203.12,750.45 M208.30,752.35 L208.82,752.53 L209.34,752.72 L209.85,752.90 L210.37,753.09 L210.89,753.27 L211.41,753.45 L211.92,753.63 L212.44,753.81 L212.96,753.99 L213.48,754.16 M218.65,755.89 L219.17,756.05 L219.68,756.22 L220.20,756.38 L220.72,756.55 L221.24,756.71 L221.75,756.87 L222.27,757.03 L222.79,757.19 L223.31,757.35 L223.82,757.51 M229.00,759.02 L229.52,759.16 L230.03,759.30 L230.55,759.45 L231.07,759.59 L231.59,759.73 L232.11,759.86 L232.62,760.00 L233.14,760.14 L233.66,760.27 L234.18,760.41 M239.35,761.66 L239.87,761.78 L240.38,761.90 L240.90,762.01 L241.42,762.13 L241.94,762.24 L242.45,762.35 L242.97,762.46 L243.49,762.57 L244.01,762.68 L244.52,762.78 M249.70,763.76 L250.22,763.85 L250.73,763.94 L251.25,764.02 L251.77,764.11 L252.29,764.19 L252.81,764.27 L253.32,764.35 L253.84,764.43 L254.36,764.51 L254.88,764.58 M260.05,765.25 L260.57,765.31 L261.09,765.36 L261.60,765.42 L262.12,765.47 L262.64,765.52 L263.16,765.57 L263.67,765.62 L264.19,765.67 L264.71,765.71 L265.23,765.76 M270.40,766.10 L270.92,766.13 L271.44,766.16 L271.95,766.18 L272.47,766.20 L272.99,766.22 L273.50,766.24 L274.02,766.26 L274.54,766.27 L275.06,766.29 L275.57,766.30 M280.75,766.34 L281.27,766.33 L281.79,766.33 L282.30,766.32 L282.82,766.31 L283.34,766.30 L283.86,766.29 L284.37,766.28 L284.89,766.26 L285.41,766.25 L285.93,766.23 M291.10,765.98 L291.62,765.95 L292.13,765.92 L292.65,765.88 L293.17,765.85 L293.69,765.81 L294.20,765.77 L294.72,765.73 L295.24,765.69 L295.76,765.65 L296.27,765.61 M301.45,765.11 L301.97,765.05 L302.49,764.99 L303.00,764.94 L303.52,764.88 L304.04,764.82 L304.56,764.75 L305.07,764.69 L305.59,764.63 L306.11,764.56 L306.62,764.50 M311.80,763.78 L312.32,763.70 L312.84,763.63 L313.35,763.55 L313.87,763.47 L314.39,763.39 L314.91,763.31 L315.42,763.22 L315.94,763.14 L316.46,763.06 L316.98,762.97 M322.15,762.08 L322.67,761.98 L323.19,761.89 L323.70,761.79 L324.22,761.70 L324.74,761.60 L325.25,761.50 L325.77,761.40 L326.29,761.30 L326.81,761.20 L327.32,761.10 M332.50,760.06 L333.02,759.95 L333.54,759.84 L334.05,759.73 L334.57,759.62 L335.09,759.51 L335.61,759.40 L336.12,759.29 L336.64,759.18 L337.16,759.06 L337.68,758.95 M342.85,757.79 L343.37,757.67 L343.88,757.55 L344.40,757.43 L344.92,757.31 L345.44,757.18 L345.95,757.06 L346.47,756.94 L346.99,756.82 L347.51,756.69 L348.02,756.57 M353.20,755.31 L353.72,755.18 L354.24,755.05 L354.75,754.92 L355.27,754.79 L355.79,754.66 L356.31,754.53 L356.82,754.40 L357.34,754.26 L357.86,754.13 L358.38,754.00 M363.55,752.66 L364.07,752.52 L364.59,752.38 L365.10,752.25 L365.62,752.11 L366.14,751.97 L366.66,751.83 L367.17,751.69 L367.69,751.56 L368.21,751.42 L368.73,751.28 M373.90,749.87 L374.42,749.73 L374.94,749.58 L375.45,749.44 L375.97,749.30 L376.49,749.15 L377.00,749.01 L377.52,748.86 L378.04,748.72 L378.56,748.57 L379.07,748.43 M384.25,746.97 L384.77,746.82 L385.29,746.67 L385.80,746.52 L386.32,746.37 L386.84,746.22 L387.36,746.07 L387.87,745.93 L388.39,745.78 L388.91,745.63 L389.43,745.48 M394.60,743.97 L395.12,743.82 L395.64,743.66 L396.15,743.51 L396.67,743.36 L397.19,743.21 L397.71,743.05 L398.22,742.90 L398.74,742.75 L399.26,742.59 L399.78,742.44 M404.95,740.89 L405.47,740.74 L405.99,740.58 L406.50,740.42 L407.02,740.27 L407.54,740.11 L408.06,739.95 L408.57,739.80 L409.09,739.64 L409.61,739.48 L410.12,739.33 M415.30,737.75 L415.82,737.59 L416.34,737.43 L416.85,737.27 L417.37,737.11 L417.89,736.95 L418.41,736.79 L418.92,736.63 L419.44,736.47 L419.96,736.32 L420.48,736.16 M425.65,734.55 L426.17,734.39 L426.69,734.23 L427.20,734.06 L427.72,733.90 L428.24,733.74 L428.75,733.58 L429.27,733.42 L429.79,733.26 L430.31,733.09 L430.82,732.93 M436.00,731.30 L436.52,731.14 L437.04,730.98 L437.55,730.81 L438.07,730.65 L438.59,730.48 L439.11,730.32 L439.62,730.16 L440.14,729.99 L440.66,729.83 L441.18,729.66" fill="none" stroke="#111" stroke-width="1.3"/>
<path d="M107.20,862.44 L107.75,862.27 L108.31,862.10 L108.86,861.93 L109.42,861.76 L109.97,861.59 M115.15,860.01 L115.67,859.85 L116.18,859.69 L116.70,859.54 L117.22,859.38 L117.74,859.22 L118.25,859.07 L118.77,858.91 L119.29,858.75 L119.81,858.60 L120.32,858.44 M125.50,856.89 L126.02,856.74 L126.53,856.58 L127.05,856.43 L127.57,856.28 L128.09,856.12 L128.61,855.97 L129.12,855.82 L129.64,855.66 L130.16,855.51 L130.68,855.36 M135.85,853.85 L136.37,853.70 L136.88,853.55 L137.40,853.40 L137.92,853.25 L138.44,853.10 L138.96,852.95 L139.47,852.80 L139.99,852.65 L140.51,852.50 L141.03,852.36 M146.20,850.89 L146.72,850.74 L147.23,850.60 L147.75,850.45 L148.27,850.31 L148.79,850.16 L149.31,850.02 L149.82,849.88 L150.34,849.73 L150.86,849.59 L151.38,849.45 M156.55,848.03 L157.07,847.89 L157.59,847.75 L158.10,847.61 L158.62,847.47 L159.14,847.34 L159.66,847.20 L160.17,847.06 L160.69,846.92 L161.21,846.79 L161.73,846.65 M166.90,845.30 L167.42,845.17 L167.93,845.03 L168.45,844.90 L168.97,844.77 L169.49,844.64 L170.00,844.51 L170.52,844.38 L171.04,844.25 L171.56,844.12 L172.07,843.99 M177.25,842.72 L177.77,842.59 L178.28,842.47 L178.80,842.35 L179.32,842.22 L179.84,842.10 L180.36,841.98 L180.87,841.86 L181.39,841.74 L181.91,841.62 L182.43,841.50 M187.60,840.32 L188.12,840.21 L188.63,840.09 L189.15,839.98 L189.67,839.87 L190.19,839.76 L190.71,839.65 L191.22,839.54 L191.74,839.43 L192.26,839.32 L192.78,839.21 M197.95,838.15 L198.47,838.05 L198.98,837.95 L199.50,837.85 L200.02,837.75 L200.54,837.65 L201.06,837.55 L201.57,837.46 L202.09,837.36 L202.61,837.26 L203.12,837.17 M208.30,836.26 L208.82,836.18 L209.34,836.09 L209.85,836.01 L210.37,835.92 L210.89,835.84 L211.41,835.76 L211.92,835.68 L212.44,835.60 L212.96,835.52 L213.48,835.44 M218.65,834.71 L219.17,834.64 L219.68,834.58 L220.20,834.51 L220.72,834.45 L221.24,834.38 L221.75,834.32 L222.27,834.26 L222.79,834.20 L223.31,834.14 L223.82,834.08 M229.00,833.57 L229.52,833.52 L230.03,833.48 L230.55,833.44 L231.07,833.40 L231.59,833.36 L232.11,833.32 L232.62,833.28 L233.14,833.24 L233.66,833.21 L234.18,833.17 M239.35,832.91 L239.87,832.89 L240.38,832.87 L240.90,832.86 L241.42,832.84 L241.94,832.83 L242.45,832.82 L242.97,832.81 L243.49,832.80 L244.01,832.79 L244.52,832.78 M249.70,832.80 L250.22,832.81 L250.73,832.82 L251.25,832.84 L251.77,832.85 L252.29,832.87 L252.81,832.89 L253.32,832.90 L253.84,832.93 L254.36,832.95 L254.88,832.97 M260.05,833.30 L260.57,833.34 L261.09,833.38 L261.60,833.43 L262.12,833.47 L262.64,833.52 L263.16,833.57 L263.67,833.62 L264.19,833.68 L264.71,833.73 L265.23,833.79 M270.40,834.43 L270.92,834.50 L271.44,834.58 L271.95,834.65 L272.47,834.73 L272.99,834.81 L273.50,834.89 L274.02,834.97 L274.54,835.06 L275.06,835.14 L275.57,835.23 M280.75,836.18 L281.27,836.29 L281.79,836.39 L282.30,836.50 L282.82,836.61 L283.34,836.72 L283.86,836.83 L284.37,836.94 L284.89,837.05 L285.41,837.17 L285.93,837.28 M291.10,838.52 L291.62,838.66 L292.13,838.79 L292.65,838.92 L293.17,839.06 L293.69,839.19 L294.20,839.33 L294.72,839.47 L295.24,839.61 L295.76,839.75 L296.27,839.89 M301.45,841.39 L301.97,841.54 L302.49,841.70 L303.00,841.86 L303.52,842.02 L304.04,842.18 L304.56,842.34 L305.07,842.50 L305.59,842.66 L306.11,842.83 L306.62,842.99 M311.80,844.70 L312.32,844.88 L312.84,845.06 L313.35,845.23 L313.87,845.41 L314.39,845.59 L314.91,845.77 L315.42,845.96 L315.94,846.14 L316.46,846.32 L316.98,846.51 M322.15,848.39 L322.67,848.59 L323.19,848.78 L323.70,848.98 L324.22,849.17 L324.74,849.37 L325.25,849.57 L325.77,849.76 L326.29,849.96 L326.81,850.16 L327.32,850.36 M332.50,852.40 L333.02,852.61 L333.54,852.81 L334.05,853.02 L334.57,853.23 L335.09,853.44 L335.61,853.65 L336.12,853.86 L336.64,854.08 L337.16,854.29 L337.68,854.50 M342.85,856.66 L343.37,856.88 L343.88,857.10 L344.40,857.32 L344.92,857.54 L345.44,857.76 L345.95,857.98 L346.47,858.20 L346.99,858.42 L347.51,858.65 L348.02,858.87 M353.20,861.13 L353.72,861.35 L354.24,861.58 L354.75,861.81 L355.27,862.04 L355.79,862.27 L356.31,862.50 L356.82,862.73 L357.34,862.96 L357.86,863.19 L358.38,863.43 M363.55,865.76 L364.07,866.00 L364.59,866.23 L365.10,866.47 L365.62,866.71 L366.14,866.94 L366.66,867.18 L367.17,867.42 L367.69,867.66 L368.21,867.90 L368.73,868.14 M373.90,870.54 L374.42,870.78 L374.94,871.02 L375.45,871.27 L375.97,871.51 L376.49,871.75 L377.00,871.99 L377.52,872.24 L378.04,872.48 L378.56,872.73 L379.07,872.97 M384.25,875.43 L384.77,875.68 L385.29,875.92 L385.80,876.17 L386.32,876.42 L386.84,876.67 L387.36,876.91 L387.87,877.16 L388.39,877.41 L388.91,877.66 L389.43,877.91 M394.60,880.41 L395.12,880.66 L395.64,880.92 L396.15,881.17 L396.67,881.42 L397.19,881.67 L397.71,881.92 L398.22,882.18 L398.74,882.43 L399.26,882.68 L399.78,882.94 M404.95,885.48 L405.47,885.73 L405.99,885.99 L406.50,886.24 L407.02,886.50 L407.54,886.75 L408.06,887.01 L408.57,887.27 L409.09,887.52 L409.61,887.78 L410.12,888.03 M415.30,890.61 L415.82,890.87 L416.34,891.12 L416.85,891.38 L417.37,891.64 L417.89,891.90 L418.41,892.16 L418.92,892.42 L419.44,892.68 L419.96,892.93 L420.48,893.19 M425.65,895.79 L426.17,896.05 L426.69,896.31 L427.20,896.58 L427.72,896.84 L428.24,897.10 L428.75,897.36 L429.27,897.62 L429.79,897.88 L430.31,898.14 L430.82,898.40 M436.00,901.03 L436.52,901.29 L437.04,901.55 L437.55,901.82 L438.07,902.08 L438.59,902.34 L439.11,902.61 L439.62,902.87 L440.14,903.13 L440.66,903.40 L441.18,903.66" fill="none" stroke="#111" stroke-width="1.3"/>
<circle cx="216.6" cy="725.2" r="5.1" fill="none" stroke="#000" stroke-width="2.0"/>
<circle cx="186.9" cy="790.8" r="5.1" fill="none" stroke="#000" stroke-width="2.0"/>
<circle cx="330.3" cy="840.2" r="5.1" fill="none" stroke="#000" stroke-width="2.0"/>
<circle cx="249.6" cy="867" r="5.1" fill="none" stroke="#000" stroke-width="2.0"/>
<circle cx="404.4" cy="877.7" r="5.1" fill="none" stroke="#000" stroke-width="2.0"/>
<circle cx="153.3" cy="877.9" r="5.1" fill="none" stroke="#000" stroke-width="2.0"/>
<circle cx="196.1" cy="877.9" r="5.1" fill="none" stroke="#000" stroke-width="2.0"/>
<circle cx="211.9" cy="877.9" r="5.1" fill="none" stroke="#000" stroke-width="2.0"/>
<circle cx="242.2" cy="877.7" r="5.1" fill="none" stroke="#000" stroke-width="2.0"/>
<circle cx="258.2" cy="877.7" r="5.1" fill="none" stroke="#000" stroke-width="2.0"/>
<circle cx="315" cy="878" r="5.1" fill="none" stroke="#000" stroke-width="2.0"/>
<circle cx="318.7" cy="878" r="5.1" fill="none" stroke="#000" stroke-width="2.0"/>
<circle cx="322.3" cy="878" r="5.1" fill="none" stroke="#000" stroke-width="2.0"/>
<circle cx="175.6" cy="559.8" r="5.8" fill="#000"/>
<circle cx="309.4" cy="559.4" r="5.8" fill="#000"/>
<circle cx="217.7" cy="660.8" r="5.8" fill="#000"/>
<circle cx="238.1" cy="677.4" r="5.8" fill="#000"/>
<circle cx="263.1" cy="680.8" r="5.8" fill="#000"/>
<circle cx="167.3" cy="692.9" r="5.8" fill="#000"/>
<circle cx="293.1" cy="708.1" r="5.8" fill="#000"/>
<circle cx="326.5" cy="730.7" r="5.8" fill="#000"/>
<circle cx="283.3" cy="745.8" r="5.8" fill="#000"/>
<circle cx="443" cy="718.3" r="5.8" fill="#000"/>
<circle cx="424.1" cy="652.8" r="5.8" fill="#000"/>
<circle cx="107.2" cy="757.1" r="5.8" fill="#000"/>
<circle cx="124.8" cy="751.2" r="5.8" fill="#000"/>
<circle cx="143.2" cy="758.8" r="5.8" fill="#000"/>
<circle cx="195.6" cy="758.8" r="5.8" fill="#000"/>
<circle cx="245.6" cy="763.7" r="5.8" fill="#000"/>
<circle cx="273.1" cy="776.2" r="5.8" fill="#000"/>
<circle cx="366.8" cy="772.5" r="5.8" fill="#000"/>
<circle cx="219.6" cy="795.4" r="5.8" fill="#000"/>
<circle cx="278.8" cy="804" r="5.8" fill="#000"/>
<circle cx="301.5" cy="801.3" r="5.8" fill="#000"/>
<circle cx="213.3" cy="831.2" r="5.8" fill="#000"/>
<circle cx="124.8" cy="849.1" r="5.8" fill="#000"/>
<circle cx="265.7" cy="854.8" r="5.8" fill="#000"/>
<circle cx="319.9" cy="834.8" r="5.8" fill="#000"/>
<circle cx="420.3" cy="860.1" r="5.8" fill="#000"/>
<circle cx="250.5" cy="877.7" r="5.8" fill="#000"/>
<circle cx="271" cy="877.7" r="5.8" fill="#000"/>
<circle cx="276.5" cy="877.7" r="5.8" fill="#000"/>
<circle cx="326.7" cy="878" r="5.8" fill="#000"/>
<circle cx="340" cy="878" r="5.8" fill="#000"/>
<text x="353.13" y="563.70" font-size="16" textLength="11.60" lengthAdjust="spacingAndGlyphs">R</text>
<line x1="374.9" y1="557.3" x2="385" y2="557.3" stroke="#000" stroke-width="1.5"/>
<line x1="374.9" y1="560.7" x2="385" y2="560.7" stroke="#000" stroke-width="1.5"/>
<line x1="389.60" y1="559.40" x2="393.70" y2="559.40" stroke="#111" stroke-width="1.8"/>
<text x="393.42" y="563.70" font-size="16" textLength="11.00" lengthAdjust="spacingAndGlyphs" stroke="#fff" stroke-width="0.1">0</text>
<text x="405.27" y="563.70" font-size="16" textLength="5.11" lengthAdjust="spacingAndGlyphs" stroke="#fff" stroke-width="0.1">.</text>
<text x="411.24" y="563.70" font-size="16" textLength="11.00" lengthAdjust="spacingAndGlyphs" stroke="#fff" stroke-width="0.1">0</text>
<text x="422.36" y="563.70" font-size="16" textLength="10.60" lengthAdjust="spacingAndGlyphs" stroke="#fff" stroke-width="0.1">8</text>
<text x="433.03" y="563.70" font-size="16" textLength="11.15" lengthAdjust="spacingAndGlyphs" stroke="#fff" stroke-width="0.1">7</text>
<text x="353.09" y="581.20" font-size="16" textLength="11.08" lengthAdjust="spacingAndGlyphs">P</text>
<polyline points="373.2,571.7 383.9,576.6 373.2,581.5" fill="none" stroke="#000" stroke-width="1.6" stroke-linejoin="miter"/>
<text x="393.45" y="581.20" font-size="16" textLength="10.55" lengthAdjust="spacingAndGlyphs" stroke="#fff" stroke-width="0.1">0</text>
<text x="404.71" y="581.20" font-size="16" textLength="5.11" lengthAdjust="spacingAndGlyphs" stroke="#fff" stroke-width="0.1">.</text>
<text x="410.74" y="581.20" font-size="16" textLength="10.08" lengthAdjust="spacingAndGlyphs" stroke="#fff" stroke-width="0.1">5</text>
<text x="421.22" y="581.20" font-size="16" textLength="10.08" lengthAdjust="spacingAndGlyphs" stroke="#fff" stroke-width="0.1">5</text>
<text x="353.04" y="598.80" font-size="16" textLength="12.53" lengthAdjust="spacingAndGlyphs">N</text>
<line x1="376.1" y1="593.6" x2="385.9" y2="593.6" stroke="#000" stroke-width="1.5"/>
<line x1="376.1" y1="597" x2="385.9" y2="597" stroke="#000" stroke-width="1.5"/>
<text x="395.94" y="598.80" font-size="16" textLength="9.65" lengthAdjust="spacingAndGlyphs" stroke="#fff" stroke-width="0.1">4</text>
<text x="406.41" y="598.80" font-size="16" textLength="10.47" lengthAdjust="spacingAndGlyphs" stroke="#fff" stroke-width="0.1">8</text>
<path d="M481.20,565.60 L484.40,565.60 L484.40,553.80 L481.50,553.80 C480.60,554.51 478.10,555.10 477.30,555.45 L477.30,557.46 C478.50,557.22 480.40,556.87 481.20,556.63 Z" fill="#000"/>
<text x="475.00" y="598.70" font-size="17.6" textLength="11.31" lengthAdjust="spacingAndGlyphs" stroke="#fff" stroke-width="0.1">0</text>
<text x="487.00" y="598.70" font-size="17.6" textLength="5.62" lengthAdjust="spacingAndGlyphs" stroke="#fff" stroke-width="0.1">.</text>
<text x="493.24" y="598.70" font-size="17.6" textLength="11.46" lengthAdjust="spacingAndGlyphs" stroke="#fff" stroke-width="0.1">7</text>
<text x="474.98" y="629.70" font-size="17.6" textLength="11.59" lengthAdjust="spacingAndGlyphs" stroke="#fff" stroke-width="0.1">0</text>
<text x="487.35" y="629.70" font-size="17.6" textLength="5.62" lengthAdjust="spacingAndGlyphs" stroke="#fff" stroke-width="0.1">.</text>
<text x="493.97" y="629.70" font-size="17.6" textLength="11.08" lengthAdjust="spacingAndGlyphs" stroke="#fff" stroke-width="0.1">5</text>
<text x="474.98" y="676.60" font-size="17.6" textLength="11.59" lengthAdjust="spacingAndGlyphs" stroke="#fff" stroke-width="0.1">0</text>
<text x="487.35" y="676.60" font-size="17.6" textLength="5.62" lengthAdjust="spacingAndGlyphs" stroke="#fff" stroke-width="0.1">.</text>
<text x="494.13" y="676.60" font-size="17.6" textLength="11.09" lengthAdjust="spacingAndGlyphs" stroke="#fff" stroke-width="0.1">3</text>
<text x="475.02" y="778.20" font-size="17.6" textLength="10.95" lengthAdjust="spacingAndGlyphs" stroke="#fff" stroke-width="0.1">0</text>
<text x="486.55" y="778.20" font-size="17.6" textLength="5.62" lengthAdjust="spacingAndGlyphs" stroke="#fff" stroke-width="0.1">.</text>
<path d="M497.07,778.20 L499.96,778.20 L499.96,766.00 L497.37,766.00 C496.47,766.73 494.34,767.34 493.54,767.71 L493.54,769.78 C494.74,769.54 496.27,769.17 497.07,768.93 Z" fill="#000"/>
<text x="474.96" y="811.90" font-size="17.6" textLength="11.84" lengthAdjust="spacingAndGlyphs" stroke="#fff" stroke-width="0.1">0</text>
<text x="487.66" y="811.90" font-size="17.6" textLength="5.62" lengthAdjust="spacingAndGlyphs" stroke="#fff" stroke-width="0.1">.</text>
<text x="494.15" y="811.90" font-size="17.6" textLength="11.84" lengthAdjust="spacingAndGlyphs" stroke="#fff" stroke-width="0.1">0</text>
<text x="505.84" y="811.90" font-size="17.6" textLength="12.00" lengthAdjust="spacingAndGlyphs" stroke="#fff" stroke-width="0.1">7</text>
<text x="474.96" y="842.70" font-size="17.6" textLength="11.84" lengthAdjust="spacingAndGlyphs" stroke="#fff" stroke-width="0.1">0</text>
<text x="487.66" y="842.70" font-size="17.6" textLength="5.62" lengthAdjust="spacingAndGlyphs" stroke="#fff" stroke-width="0.1">.</text>
<text x="494.15" y="842.70" font-size="17.6" textLength="11.84" lengthAdjust="spacingAndGlyphs" stroke="#fff" stroke-width="0.1">0</text>
<text x="506.15" y="842.70" font-size="17.6" textLength="11.32" lengthAdjust="spacingAndGlyphs" stroke="#fff" stroke-width="0.1">5</text>
<text x="474.96" y="889.50" font-size="17.6" textLength="11.84" lengthAdjust="spacingAndGlyphs" stroke="#fff" stroke-width="0.1">0</text>
<text x="487.66" y="889.50" font-size="17.6" textLength="5.62" lengthAdjust="spacingAndGlyphs" stroke="#fff" stroke-width="0.1">.</text>
<text x="494.15" y="889.50" font-size="17.6" textLength="11.84" lengthAdjust="spacingAndGlyphs" stroke="#fff" stroke-width="0.1">0</text>
<text x="506.30" y="889.50" font-size="17.6" textLength="11.33" lengthAdjust="spacingAndGlyphs" stroke="#fff" stroke-width="0.1">3</text>
<text x="74.20" y="948.00" font-size="17.6" textLength="11.19" lengthAdjust="spacingAndGlyphs" stroke="#fff" stroke-width="0.1">0</text>
<text x="86.05" y="948.00" font-size="17.6" textLength="5.62" lengthAdjust="spacingAndGlyphs" stroke="#fff" stroke-width="0.1">.</text>
<text x="92.26" y="948.00" font-size="17.6" textLength="11.34" lengthAdjust="spacingAndGlyphs" stroke="#fff" stroke-width="0.1">7</text>
<text x="298.20" y="948.00" font-size="17.6" textLength="12.20" lengthAdjust="spacingAndGlyphs" stroke="#fff" stroke-width="0.1">3</text>
<text x="374.48" y="948.00" font-size="17.6" textLength="11.29" lengthAdjust="spacingAndGlyphs" stroke="#fff" stroke-width="0.1">5</text>
<text x="421.72" y="948.00" font-size="17.6" textLength="12.68" lengthAdjust="spacingAndGlyphs" stroke="#fff" stroke-width="0.1">7</text>
<path d="M141.99,947.80 L145.00,947.80 L145.00,936.00 L142.29,936.00 C141.39,936.71 139.10,937.30 138.30,937.65 L138.30,939.66 C139.50,939.42 141.19,939.07 141.99,938.83 Z" fill="#000"/>
<text x="81.26" y="971.20" font-size="20.9" textLength="95.45" lengthAdjust="spacingAndGlyphs">PERCENT</text>
<text x="191.37" y="971.20" font-size="20.9" textLength="125.21" lengthAdjust="spacingAndGlyphs">PS-POSITIVE</text>
<text x="339.43" y="971.40" font-size="20.9" textLength="119.27" lengthAdjust="spacingAndGlyphs">PLATELETS</text>
<text transform="translate(18.20,0) rotate(-90)" x="-957.63" y="0" font-size="21.8" textLength="89.99" lengthAdjust="spacingAndGlyphs">PLASMA</text>
<text transform="translate(18.20,0) rotate(-90)" x="-851.30" y="0" font-size="21.8" textLength="75.87" lengthAdjust="spacingAndGlyphs">LEVELS</text>
<text transform="translate(18.20,0) rotate(-90)" x="-757.42" y="0" font-size="21.8" textLength="27.86" lengthAdjust="spacingAndGlyphs">OF</text>
<text transform="translate(18.20,0) rotate(-90)" x="-715.22" y="0" font-size="21.8" textLength="91.06" lengthAdjust="spacingAndGlyphs">D-DIMER</text>
<text transform="translate(16.10,0) rotate(-90)" x="-608.11" y="0" font-size="18.1" style="font-weight:normal" textLength="4.90" lengthAdjust="spacingAndGlyphs">(</text>
<text transform="translate(17.75,0) rotate(-90)" x="-600.19" y="0" font-size="20.5" font-style="italic" textLength="12.83" lengthAdjust="spacingAndGlyphs">µ</text>
<text transform="translate(17.75,0) rotate(-90)" x="-586.84" y="0" font-size="20.5" textLength="49.18" lengthAdjust="spacingAndGlyphs">g/mL</text>
<text transform="translate(16.10,0) rotate(-90)" x="-535.88" y="0" font-size="18.1" style="font-weight:normal" textLength="4.27" lengthAdjust="spacingAndGlyphs">)</text>
<text x="29.38" y="518.10" font-size="42" textLength="29.37" lengthAdjust="spacingAndGlyphs">B</text>
</svg>
</body></html>
